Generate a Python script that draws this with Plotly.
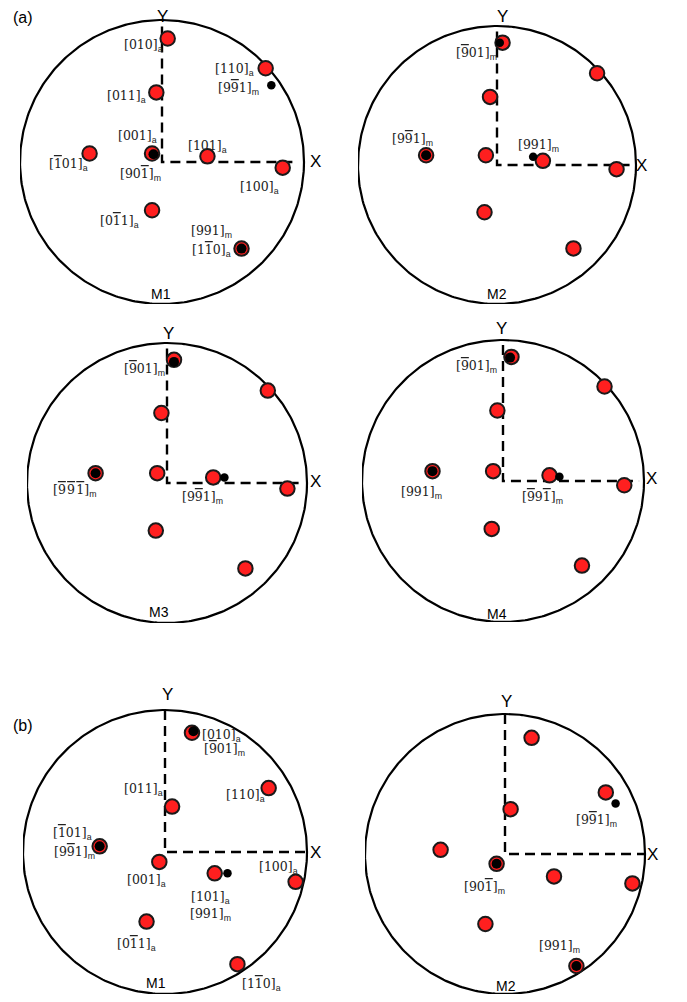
import numpy as np
import plotly.graph_objects as go

W, H = 687, 1002
OFF = 8  # the page body margin shifts the figure by this many pixels


def bar(d):
    """Miller-index digit with an over-bar (negative index)."""
    return f"<span style='text-decoration:overline'>{d}</span>"


# ---------------- data: projected pole positions (unit stereographic circle) ----------------
# (a) M1
a1_pole_u = [0.04, 0.73, -0.04, -0.51, -0.07, 0.32, 0.85, -0.07, 0.56]
a1_pole_v = [0.87, 0.66, 0.49, 0.06, 0.06, 0.04, -0.04, -0.34, -0.61]
a1_ring_u = [-0.06, 0.56]
a1_ring_v = [0.055, -0.61]
a1_dot_u = [0.77]
a1_dot_v = [0.54]
a1_labels = ["[010]", "[110]", f"[9{bar(9)}1]", "[011]", "[001]", f"[{bar(1)}01]",
             f"[90{bar(1)}]", "[101]", "[100]", f"[0{bar(1)}1]", "[991]", f"[1{bar(1)}0]"]
a1_label_sub = ["a", "a", "m", "a", "a", "a", "m", "a", "a", "a", "m", "a"]
a1_label_u = [-0.13, 0.51, 0.54, -0.25, -0.17, -0.66, -0.15, 0.32, 0.69, -0.30, 0.35, 0.35]
a1_label_v = [0.82, 0.65, 0.52, 0.46, 0.18, -0.02, -0.09, 0.11, -0.18, -0.42, -0.49, -0.62]

# (a) M2
a2_pole_u = [0.04, 0.72, -0.05, -0.51, -0.08, 0.33, 0.86, -0.09, 0.55]
a2_pole_v = [0.88, 0.66, 0.49, 0.07, 0.07, 0.03, -0.03, -0.34, -0.60]
a2_ring_u = [-0.51]
a2_ring_v = [0.07]
a2_dot_u = [0.02, 0.26]
a2_dot_v = [0.88, 0.06]
a2_labels = [f"[{bar(9)}01]", f"[9{bar(9)}1]", "[991]"]
a2_label_sub = ["m", "m", "m"]
a2_label_u = [-0.15, -0.61, 0.30]
a2_label_v = [0.80, 0.18, 0.14]

# (a) M3
a3_pole_u = [0.05, 0.72, -0.04, -0.51, -0.07, 0.33, 0.86, -0.08, 0.56]
a3_pole_v = [0.88, 0.66, 0.50, 0.07, 0.07, 0.04, -0.04, -0.34, -0.61]
a3_ring_u = [-0.51, 0.05]
a3_ring_v = [0.07, 0.865]
a3_dot_u = [0.41]
a3_dot_v = [0.04]
a3_labels = [f"[{bar(9)}01]", f"[{bar(9)}\u200a{bar(9)}\u200a{bar(1)}]", f"[9{bar(9)}1]"]
a3_label_sub = ["m", "m", "m"]
a3_label_u = [-0.16, -0.66, 0.25]
a3_label_v = [0.81, -0.05, -0.10]

# (a) M4
a4_pole_u = [0.06, 0.72, -0.04, -0.50, -0.07, 0.33, 0.86, -0.08, 0.56]
a4_pole_v = [0.88, 0.67, 0.50, 0.07, 0.07, 0.04, -0.03, -0.34, -0.60]
a4_ring_u = [-0.50, 0.05]
a4_ring_v = [0.07, 0.875]
a4_dot_u = [0.40]
a4_dot_v = [0.03]
a4_labels = [f"[{bar(9)}01]", "[991]", f"[{bar(9)}9{bar(1)}]"]
a4_label_sub = ["m", "m", "m"]
a4_label_u = [-0.19, -0.58, 0.28]
a4_label_v = [0.81, -0.08, -0.12]

# (b) M1
b1_pole_u = [0.19, 0.73, 0.05, -0.46, -0.04, 0.35, 0.92, -0.13, 0.51]
b1_pole_v = [0.84, 0.45, 0.32, 0.04, -0.07, -0.15, -0.21, -0.49, -0.79]
b1_ring_u = [0.20, -0.46]
b1_ring_v = [0.85, 0.04]
b1_dot_u = [0.44]
b1_dot_v = [-0.15]
b1_labels = ["[010]", f"[{bar(9)}01]", "[110]", "[011]", f"[{bar(1)}01]", f"[9{bar(9)}1]",
             "[001]", "[101]", "[991]", "[100]", f"[0{bar(1)}1]", f"[1{bar(1)}0]"]
b1_label_sub = ["a", "m", "a", "a", "a", "m", "a", "a", "m", "a", "a", "a"]
b1_label_u = [0.40, 0.42, 0.57, -0.15, -0.65, -0.64, -0.13, 0.32, 0.32, 0.80, -0.20, 0.68]
b1_label_v = [0.82, 0.72, 0.40, 0.44, 0.13, 0.00, -0.20, -0.32, -0.44, -0.11, -0.65, -0.93]

# (b) M2
b2_pole_u = [0.19, 0.72, 0.04, -0.46, -0.06, 0.35, 0.91, -0.14, 0.51]
b2_pole_v = [0.83, 0.44, 0.32, 0.03, -0.07, -0.16, -0.21, -0.50, -0.80]
b2_ring_u = [-0.06, 0.51]
b2_ring_v = [-0.07, -0.80]
b2_dot_u = [0.79]
b2_dot_v = [0.36]
b2_labels = [f"[9{bar(9)}1]", f"[90{bar(1)}]", "[991]"]
b2_label_sub = ["m", "m", "m"]
b2_label_u = [0.65, -0.15, 0.39]
b2_label_v = [0.24, -0.24, -0.66]

variant_names = ["M1", "M2", "M3", "M4", "M1", "M2"]

# ---------------- layout of panels (pixel centre on page, radius, decorations) ----------------
panels = [
    dict(c=(162, 162, 142), axis_end=0.955, ylab=(0.0, 1.025), xlab=(1.08, 0.0), mlab=(-0.01, -0.93),
         pu=a1_pole_u, pv=a1_pole_v, ru=a1_ring_u, rv=a1_ring_v, du=a1_dot_u, dv=a1_dot_v,
         lt=a1_labels, ls=a1_label_sub, lu=a1_label_u, lv=a1_label_v),
    dict(c=(497, 165, 139), axis_end=0.96, ylab=(0.04, 1.065), xlab=(1.04, 0.0), mlab=(0.0, -0.93),
         pu=a2_pole_u, pv=a2_pole_v, ru=a2_ring_u, rv=a2_ring_v, du=a2_dot_u, dv=a2_dot_v,
         lt=a2_labels, ls=a2_label_sub, lu=a2_label_u, lv=a2_label_v),
    dict(c=(167, 483, 140), axis_end=0.96, ylab=(0.01, 1.07), xlab=(1.06, 0.01), mlab=(-0.06, -0.92),
         pu=a3_pole_u, pv=a3_pole_v, ru=a3_ring_u, rv=a3_ring_v, du=a3_dot_u, dv=a3_dot_v,
         lt=a3_labels, ls=a3_label_sub, lu=a3_label_u, lv=a3_label_v),
    dict(c=(503, 481, 141), axis_end=0.965, ylab=(-0.01, 1.08), xlab=(1.05, 0.02), mlab=(-0.04, -0.94),
         pu=a4_pole_u, pv=a4_pole_v, ru=a4_ring_u, rv=a4_ring_v, du=a4_dot_u, dv=a4_dot_v,
         lt=a4_labels, ls=a4_label_sub, lu=a4_label_u, lv=a4_label_v),
    dict(c=(165, 852, 142), axis_end=1.0, ylab=(0.02, 1.11), xlab=(1.06, 0.0), mlab=(-0.06, -0.92),
         pu=b1_pole_u, pv=b1_pole_v, ru=b1_ring_u, rv=b1_ring_v, du=b1_dot_u, dv=b1_dot_v,
         lt=b1_labels, ls=b1_label_sub, lu=b1_label_u, lv=b1_label_v),
    dict(c=(505, 854, 140), axis_end=1.0, ylab=(0.01, 1.09), xlab=(1.05, 0.0), mlab=(0.01, -0.94),
         pu=b2_pole_u, pv=b2_pole_v, ru=b2_ring_u, rv=b2_ring_v, du=b2_dot_u, dv=b2_dot_v,
         lt=b2_labels, ls=b2_label_sub, lu=b2_label_u, lv=b2_label_v),
]

RED = "#ff1f1f"
EDGE = "#1a1a1a"
SERIF = "DejaVu Serif"
SANS = "Liberation Sans, Arial, sans-serif"
LO = -1.0

fig = go.Figure()
layout_axes = {}
annotations = []
theta = np.linspace(0, 2 * np.pi, 361)

for i, p in enumerate(panels, start=1):
    cx, cy, R = p["c"]
    cx -= OFF
    cy -= OFF
    hix = min(1.13, (W - cx) / R - 0.01)
    hiy = min(1.13, cy / R - 0.005)
    xa = "x" if i == 1 else f"x{i}"
    ya = "y" if i == 1 else f"y{i}"
    xkey = "xaxis" if i == 1 else f"xaxis{i}"
    ykey = "yaxis" if i == 1 else f"yaxis{i}"
    layout_axes[xkey] = dict(domain=[(cx + LO * R) / W, (cx + hix * R) / W], range=[LO, hix],
                             visible=False, showgrid=False, zeroline=False, anchor=ya, fixedrange=True)
    layout_axes[ykey] = dict(domain=[1 - (cy - LO * R) / H, 1 - (cy - hiy * R) / H], range=[LO, hiy],
                             visible=False, showgrid=False, zeroline=False, anchor=xa, fixedrange=True)
    e = p["axis_end"]
    # dashed sample axes
    fig.add_trace(go.Scatter(x=[0, 0, e], y=[e, 0, 0], mode="lines", xaxis=xa, yaxis=ya,
                             line=dict(color="black", width=2.4, dash="10px,6px"),
                             cliponaxis=False, hoverinfo="skip", showlegend=False))
    # primitive circle
    fig.add_trace(go.Scatter(x=np.cos(theta), y=np.sin(theta), mode="lines", xaxis=xa, yaxis=ya,
                             line=dict(color="black", width=2.2), cliponaxis=False,
                             hoverinfo="skip", showlegend=False))
    # austenite poles
    fig.add_trace(go.Scatter(x=p["pu"], y=p["pv"], mode="markers", xaxis=xa, yaxis=ya,
                             marker=dict(size=14.5, color=RED, line=dict(color=EDGE, width=2)),
                             cliponaxis=False, hoverinfo="skip", showlegend=False))
    # martensite directions coinciding with poles
    fig.add_trace(go.Scatter(x=p["ru"], y=p["rv"], mode="markers", xaxis=xa, yaxis=ya,
                             marker=dict(size=10, color="black"),
                             cliponaxis=False, hoverinfo="skip", showlegend=False))
    # other martensite directions
    fig.add_trace(go.Scatter(x=p["du"], y=p["dv"], mode="markers", xaxis=xa, yaxis=ya,
                             marker=dict(size=8.5, color="black"),
                             cliponaxis=False, hoverinfo="skip", showlegend=False))
    # index labels
    for t, s, u, v in zip(p["lt"], p["ls"], p["lu"], p["lv"]):
        annotations.append(dict(
            x=u, y=v, xref=xa, yref=ya, showarrow=False, xanchor="center", yanchor="middle",
            text=f"{t}<sub><span style='font-family:Liberation Sans'>{s}</span></sub>",
            font=dict(family=SERIF, size=12.5, color="#222")))
    # X, Y, variant labels
    annotations.append(dict(x=p["ylab"][0], y=min(p["ylab"][1], hiy), xref=xa, yref=ya,
                            showarrow=False, xanchor="center", yanchor="middle",
                            text="Y", font=dict(family=SANS, size=17, color="black")))
    annotations.append(dict(x=p["xlab"][0], y=p["xlab"][1], xref=xa, yref=ya, showarrow=False,
                            xanchor="center", yanchor="middle",
                            text="X", font=dict(family=SANS, size=17, color="black")))
    annotations.append(dict(x=p["mlab"][0], y=p["mlab"][1], xref=xa, yref=ya, showarrow=False,
                            xanchor="center", yanchor="middle",
                            text=variant_names[i - 1], font=dict(family=SANS, size=14, color="black")))

annotations.append(dict(x=(23 - OFF) / W, y=1 - (17 - OFF) / H, xref="paper", yref="paper",
                        showarrow=False, xanchor="center", yanchor="middle",
                        text="(a)", font=dict(family=SANS, size=16, color="black")))
annotations.append(dict(x=(23 - OFF) / W, y=1 - (725 - OFF) / H, xref="paper", yref="paper",
                        showarrow=False, xanchor="center", yanchor="middle",
                        text="(b)", font=dict(family=SANS, size=16, color="black")))

fig.update_layout(width=W, height=H, margin=dict(l=0, r=0, t=0, b=0),
                  paper_bgcolor="white", plot_bgcolor="white",
                  annotations=annotations, showlegend=False, **layout_axes)

fig.write_html("out.html")
